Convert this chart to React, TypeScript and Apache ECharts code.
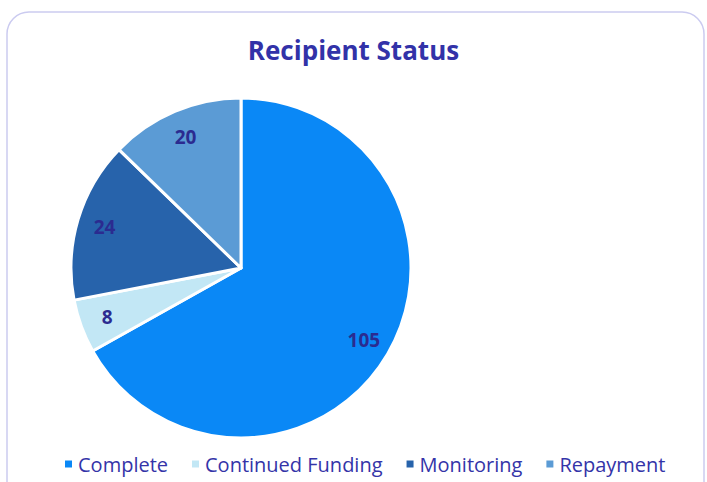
import React, { useEffect, useRef } from "react";
import * as echarts from "echarts";

const categories = ["Complete", "Continued Funding", "Monitoring", "Repayment"];
const values = [105, 8, 24, 20];
const colors = ["#0A88F6", "#C2E7F5", "#2763AB", "#5B9BD5"];

export default function App() {
  const ref = useRef<HTMLDivElement>(null);
  useEffect(() => {
    const chart = echarts.init(ref.current!, null, { renderer: "svg" });
    const data = categories.map((c, i) => ({ name: c, value: values[i], itemStyle: { color: colors[i] } }));
    const R = 170;
    chart.setOption({
      animation: false,
      backgroundColor: "#fff",
      title: {
        text: "Recipient Status",
        left: "center",
        top: 32,
        textStyle: { fontFamily: "Open Sans", fontWeight: "bold", fontSize: 26, color: "#3232A8" },
      },
      graphic: [
        {
          type: "rect",
          shape: { x: 7, y: 12, width: 697, height: 500, r: 22 },
          style: { fill: "none", stroke: "#CBCBF0", lineWidth: 1.5 },
          z: -1,
        },
      ],
      legend: {
        data: categories,
        bottom: 3,
        left: 58,
        icon: "rect",
        itemWidth: 9,
        itemHeight: 9,
        itemGap: 22,
        textStyle: { fontFamily: "Open Sans", fontSize: 20, color: "#3434A8" },
      },
      series: [
        {
          type: "pie",
          center: [241, 268],
          radius: [0, R],
          startAngle: 90,
          clockwise: true,
          data,
          label: { show: false },
          labelLine: { show: false },
          itemStyle: { borderColor: "#fff", borderWidth: 3 },
          emphasis: { disabled: true },
        },
        {
          type: "pie",
          center: [241, 268],
          radius: [R * 0.64, R],
          startAngle: 90,
          clockwise: true,
          silent: true,
          data: categories.map((c, i) => ({ name: c, value: values[i] })),
          itemStyle: { color: "rgba(0,0,0,0)" },
          label: {
            show: true,
            position: "inside",
            formatter: "{c}",
            fontFamily: "Open Sans",
            fontWeight: "bold",
            fontSize: 19,
            color: "#2B2B90",
          },
          labelLine: { show: false },
          emphasis: { disabled: true },
        },
      ],
    });
    return () => chart.dispose();
  }, []);
  return <div ref={ref} style={{ position: "absolute", left: 0, top: 0, width: 707, height: 482 }} />;
}
